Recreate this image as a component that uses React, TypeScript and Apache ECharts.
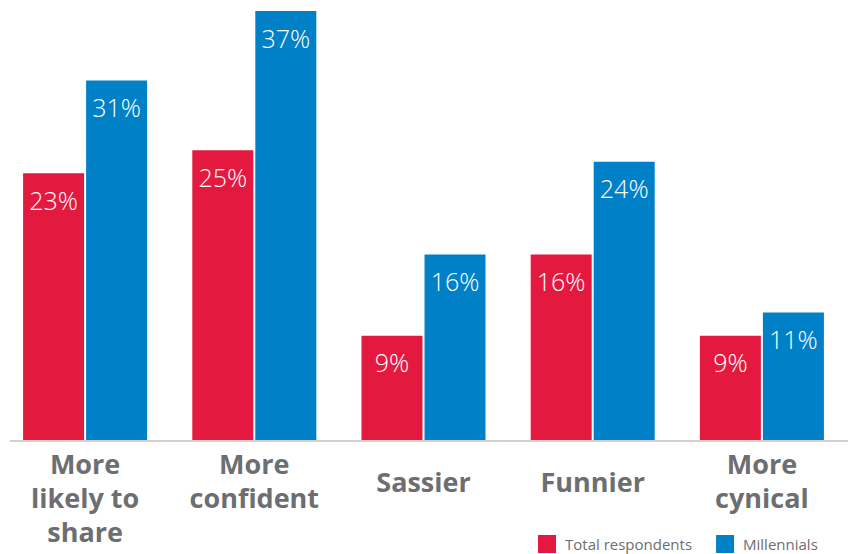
import React, { useEffect, useRef } from "react";
import * as echarts from "echarts";

const categories = ["More\nlikely to\nshare", "More\nconfident", "Sassier", "Funnier", "More\ncynical"];
const totalRespondents = [23, 25, 9, 16, 9];
const millennials = [31, 37, 16, 24, 11];
const seriesNames = ["Total respondents", "Millennials"];

const RED = "#E3193F";
const BLUE = "#0080C6";
const GRAY = "#6D6E71";
const FONT = "'Open Sans', 'Noto Sans', sans-serif";

export default function App() {
  const ref = useRef<HTMLDivElement>(null);
  useEffect(() => {
    if (!ref.current) return;
    const chart = echarts.init(ref.current, null, { renderer: "svg" });
    const label = {
      show: true,
      position: "insideTop",
      distance: 14,
      color: "#fff",
      fontSize: 25,
      fontFamily: FONT,
      fontWeight: 300,
      formatter: (p: any) => p.value + "%",
    };
    chart.setOption({
      animation: false,
      grid: { left: 0.5, right: 9.5, top: 11, bottom: 114, containLabel: false },
      legend: {
        left: 538,
        top: 535,
        padding: 0,
        itemWidth: 18,
        itemHeight: 18,
        itemGap: 24,
        icon: "rect",
        data: seriesNames,
        textStyle: { color: GRAY, fontSize: 15, fontFamily: FONT, padding: [0, 0, 0, 4] },
      },
      xAxis: {
        type: "category",
        data: categories,
        axisLine: { show: false },
        axisTick: { show: false },
        axisLabel: {
          interval: 0,
          margin: 6,
          verticalAlign: "top",
          formatter: (v: string) =>
            v.includes("\n")
              ? v.split("\n").map((l) => `{m|${l}}`).join("\n")
              : `{s|${v}}`,
          rich: {
            m: { fontSize: 27, fontWeight: "bold", fontFamily: FONT, color: GRAY, lineHeight: 34 },
            s: { fontSize: 27, fontWeight: "bold", fontFamily: FONT, color: GRAY, lineHeight: 70 },
          },
        },
      },
      yAxis: {
        type: "value",
        min: 0,
        max: 37,
        show: false,
        splitLine: { show: false },
      },
      graphic: [
        {
          type: "line",
          shape: { x1: 10, y1: 441, x2: 848, y2: 441 },
          style: { stroke: "#D6D0C8", lineWidth: 2 },
          z: 10,
        },
      ],
      series: [
        {
          name: seriesNames[0],
          type: "bar",
          data: totalRespondents,
          barWidth: 61,
          barGap: "3.3%",
          itemStyle: { color: RED },
          label,
        },
        {
          name: seriesNames[1],
          type: "bar",
          data: millennials,
          barWidth: 61,
          barGap: "3.3%",
          itemStyle: { color: BLUE },
          label,
        },
      ],
    });
    return () => chart.dispose();
  }, []);
  return (
    <div
      ref={ref}
      style={{ position: "fixed", left: 0, top: 0, width: 856, height: 554, background: "#fff" }}
    />
  );
}
